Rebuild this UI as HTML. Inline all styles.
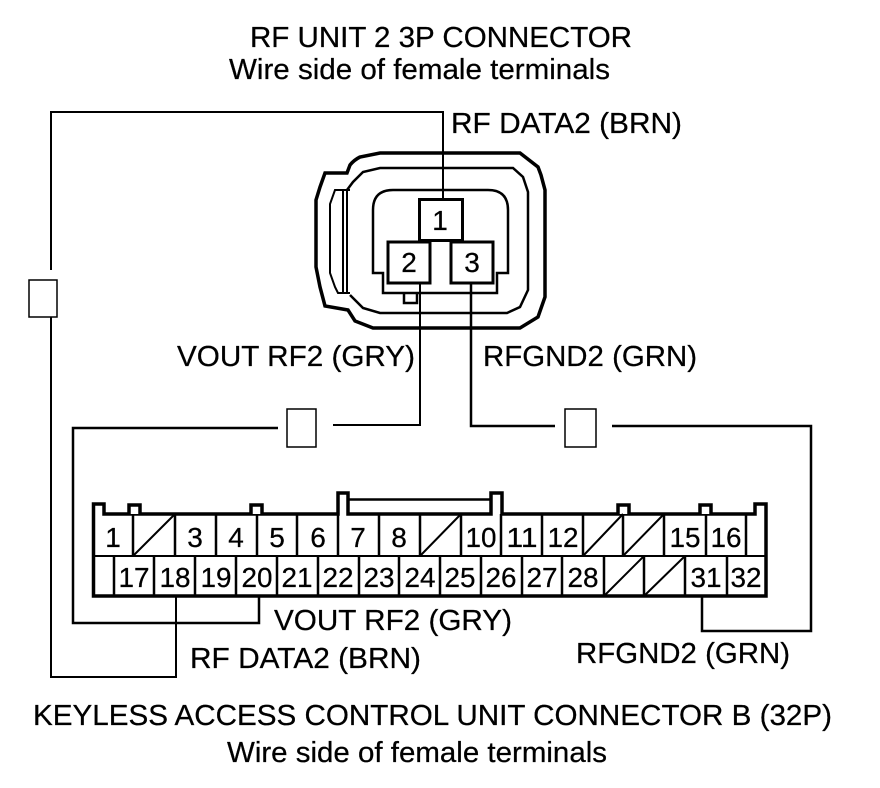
<!DOCTYPE html>
<html><head><meta charset="utf-8"><style>
html,body{margin:0;padding:0;background:#fff}
svg{display:block}
text{font-family:"Liberation Sans",sans-serif;font-size:29px;fill:#000;stroke:#000;stroke-width:.25}
.n{font-size:28px;text-anchor:middle}
</style></head><body>
<svg width="880" height="788" viewBox="0 0 880 788" xmlns="http://www.w3.org/2000/svg">
<g fill="none" stroke="#000" stroke-linejoin="miter">
<!-- RF connector shell -->
<path stroke-width="3.5" d="M325 173H347L350 165Q354 160 360 157L380 153H520L538 167L541 175L545 190V297L538 317L520 328H373L355 321L348 310L325 306L320 287L316 267V200L320 187Z"/>
<path stroke-width="2.5" d="M347 190L353 182L363 172L380 168H513L523 177L528 192V290L520 307L507 313H380L363 308L350 295"/>
<path stroke-width="2" d="M350 190H335L330 204V273L335 287L338 293H350M343 190V293M347 190V293"/>
<path stroke-width="2.5" d="M383 273H373V210Q373 190 393 190H488Q508 190 508 210V273H497V293H383ZM404 293V303H417V293"/>
<rect x="419.500" y="199.500" width="43" height="41" fill="#fff" stroke-width="3"/>
<rect x="388" y="242" width="42" height="41" fill="#fff" stroke-width="3"/>
<rect x="451" y="242" width="42" height="41" fill="#fff" stroke-width="3"/>
<!-- wires -->
<path stroke-width="2" d="M51 270V112H443V199"/>
<path stroke-width="2" d="M51 317V677H176V597"/>
<path stroke-width="2" d="M420 283V425H333"/>
<path stroke-width="2.500" d="M278 428H73V623H259V597"/>
<path stroke-width="2.500" d="M471 283V426H555"/>
<path stroke-width="2.500" d="M612 426H811V631H702V597"/>
<rect x="29" y="280" width="28" height="37" stroke-width="1.500"/>
<rect x="287" y="409" width="29" height="38" stroke-width="1.500"/>
<rect x="565" y="409" width="31" height="38" stroke-width="1.500"/>
<!-- 32P connector -->
<path stroke-width="3.5" d="M104 514V504H93.500V596H766V504H755V514H502V493H491V514H348V493H338V514Z" fill="#fff"/>
<path stroke-width="2.500" d="M348 499.500H491"/>
<path stroke-width="3.5" fill="#fff" d="M129 514V505H140V514M251 514V505H262V514M618 514V505H629V514M700 514V505H711V514"/>
<path stroke-width="2" d="M93 556H766"/>
<path stroke-width="2.500" d="M133 514V556M175 514V556M216 514V556M257 514V556M297 514V556M338 514V556M379 514V556M420 514V556M461 514V556M501 514V556M542 514V556M583 514V556M623 514V556M664 514V556M706 514V556M746 514V556"/>
<path stroke-width="2.500" d="M114 556V596M154 556V596M195 556V596M236 556V596M277 556V596M318 556V596M359 556V596M399 556V596M440 556V596M481 556V596M522 556V596M562 556V596M604 556V596M644 556V596M685 556V596M727 556V596"/>
<path stroke-width="2" d="M133 556L175 514M420 556L461 514M583 556L623 514M623 556L664 514M604 596L644 556M644 596L685 556"/>
</g>
<!-- labels -->
<text x="250" y="47" textLength="382" lengthAdjust="spacingAndGlyphs">RF UNIT 2 3P CONNECTOR</text>
<text x="229" y="79" textLength="381" lengthAdjust="spacingAndGlyphs">Wire side of female terminals</text>
<text x="451" y="133" textLength="231" lengthAdjust="spacingAndGlyphs">RF DATA2 (BRN)</text>
<text x="177" y="366" textLength="238" lengthAdjust="spacingAndGlyphs">VOUT RF2 (GRY)</text>
<text x="483" y="366" textLength="214" lengthAdjust="spacingAndGlyphs">RFGND2 (GRN)</text>
<text x="274" y="630" textLength="238" lengthAdjust="spacingAndGlyphs">VOUT RF2 (GRY)</text>
<text x="190" y="668" textLength="231" lengthAdjust="spacingAndGlyphs">RF DATA2 (BRN)</text>
<text x="576" y="663" textLength="214" lengthAdjust="spacingAndGlyphs">RFGND2 (GRN)</text>
<text x="33" y="725" textLength="799" lengthAdjust="spacingAndGlyphs">KEYLESS ACCESS CONTROL UNIT CONNECTOR B (32P)</text>
<text x="227" y="762" textLength="380" lengthAdjust="spacingAndGlyphs">Wire side of female terminals</text>
<g class="nums">
<text class="n" x="440" y="230">1</text>
<text class="n" x="409" y="272">2</text>
<text class="n" x="472" y="272">3</text>
<text class="n" x="113" y="547">1</text>
<text class="n" x="195" y="547">3</text>
<text class="n" x="236" y="547">4</text>
<text class="n" x="277" y="547">5</text>
<text class="n" x="318" y="547">6</text>
<text class="n" x="358" y="547">7</text>
<text class="n" x="399" y="547">8</text>
<text class="n" x="481" y="547" textLength="31" lengthAdjust="spacingAndGlyphs">10</text>
<text class="n" x="522" y="547" textLength="31" lengthAdjust="spacingAndGlyphs">11</text>
<text class="n" x="563" y="547" textLength="31" lengthAdjust="spacingAndGlyphs">12</text>
<text class="n" x="685" y="547" textLength="31" lengthAdjust="spacingAndGlyphs">15</text>
<text class="n" x="726" y="547" textLength="31" lengthAdjust="spacingAndGlyphs">16</text>
<text class="n" x="134" y="587" textLength="31" lengthAdjust="spacingAndGlyphs">17</text>
<text class="n" x="175" y="587" textLength="31" lengthAdjust="spacingAndGlyphs">18</text>
<text class="n" x="216" y="587" textLength="31" lengthAdjust="spacingAndGlyphs">19</text>
<text class="n" x="257" y="587" textLength="31" lengthAdjust="spacingAndGlyphs">20</text>
<text class="n" x="297" y="587" textLength="31" lengthAdjust="spacingAndGlyphs">21</text>
<text class="n" x="338" y="587" textLength="31" lengthAdjust="spacingAndGlyphs">22</text>
<text class="n" x="379" y="587" textLength="31" lengthAdjust="spacingAndGlyphs">23</text>
<text class="n" x="420" y="587" textLength="31" lengthAdjust="spacingAndGlyphs">24</text>
<text class="n" x="460" y="587" textLength="31" lengthAdjust="spacingAndGlyphs">25</text>
<text class="n" x="501" y="587" textLength="31" lengthAdjust="spacingAndGlyphs">26</text>
<text class="n" x="542" y="587" textLength="31" lengthAdjust="spacingAndGlyphs">27</text>
<text class="n" x="583" y="587" textLength="31" lengthAdjust="spacingAndGlyphs">28</text>
<text class="n" x="706" y="587" textLength="31" lengthAdjust="spacingAndGlyphs">31</text>
<text class="n" x="746" y="587" textLength="31" lengthAdjust="spacingAndGlyphs">32</text>
</g>
</svg>
</body></html>
